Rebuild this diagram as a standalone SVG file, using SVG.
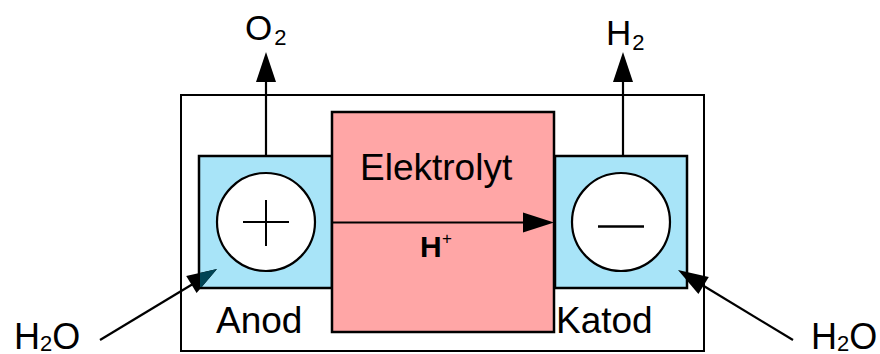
<svg xmlns="http://www.w3.org/2000/svg" width="880" height="354" viewBox="0 0 880 354">
<style>
text{font-family:"Liberation Sans",Arial,sans-serif;fill:#000}
.lbl{font-size:37px}
.box{stroke:#000;stroke-width:2.5}
.ln{stroke:#000;stroke-width:2.2;fill:none}
</style>
<defs>
<clipPath id="anodClip"><rect x="200" y="157" width="132" height="130"/></clipPath>
</defs>
<rect width="880" height="354" fill="#fff"/>
<g id="frame"><rect x="181" y="95" width="523" height="256" fill="#fff" stroke="#000" stroke-width="2"/></g>
<g id="connectors">
<line class="ln" x1="266" y1="156" x2="266" y2="80"/>
<polygon points="266,52 256,82 276,82"/>
<line class="ln" x1="623" y1="156" x2="623" y2="80"/>
<polygon points="623,52 613,82 633,82"/>
</g>
<g id="anod">
<rect class="box" x="199" y="156" width="133" height="132" fill="#A8E4F8"/>
<circle cx="266" cy="222" r="49" fill="#fff" stroke="#000" stroke-width="2.2"/>
<line x1="243" y1="222" x2="289" y2="222" stroke="#000" stroke-width="2"/>
<line x1="266" y1="200" x2="266" y2="246" stroke="#000" stroke-width="2"/>
<text class="lbl" x="216" y="333">Anod</text>
</g>
<g id="katod">
<rect class="box" x="555" y="156" width="132" height="132" fill="#A8E4F8"/>
<circle cx="621" cy="222" r="49" fill="#fff" stroke="#000" stroke-width="2.2"/>
<line x1="598" y1="226.5" x2="644" y2="226.5" stroke="#000" stroke-width="2.4"/>
<text class="lbl" x="556" y="333" font-size="35">Katod</text>
</g>
<g id="elektrolyt">
<rect class="box" x="332" y="112" width="222" height="220" fill="#FFA6A6"/>
<text class="lbl" x="360" y="180">Elektrolyt</text>
</g>
<g id="connectors2">
<line class="ln" x1="332" y1="222.5" x2="525" y2="222.5"/>
<polygon points="554,222.5 523,212.5 523,232.5"/>
<text x="420" y="257" font-size="30" font-weight="bold">H</text>
<text x="442" y="244" font-size="17">+</text>
<line class="ln" x1="100" y1="340" x2="192" y2="284.5"/>
<polygon points="217,269 186.2,276.1 196.6,293.1"/>
<polygon points="217,269 186.2,276.1 196.6,293.1" fill="#004455" clip-path="url(#anodClip)"/>
<line class="ln" x1="793" y1="340" x2="703" y2="285.5"/>
<polygon points="678,270 708.8,277.1 698.4,294.1"/>
</g>
<g id="labels">
<text x="245" y="40" font-size="35">O<tspan font-size="22" dy="5" dx="2">2</tspan></text>
<text x="606" y="45" font-size="35">H<tspan font-size="22" dy="5" dx="1">2</tspan></text>
<text x="14" y="349" font-size="36">H<tspan font-size="22" dy="2">2</tspan><tspan dy="-2">O</tspan></text>
<text x="811" y="349" font-size="36">H<tspan font-size="22" dy="2">2</tspan><tspan dy="-2">O</tspan></text>
</g>
</svg>
